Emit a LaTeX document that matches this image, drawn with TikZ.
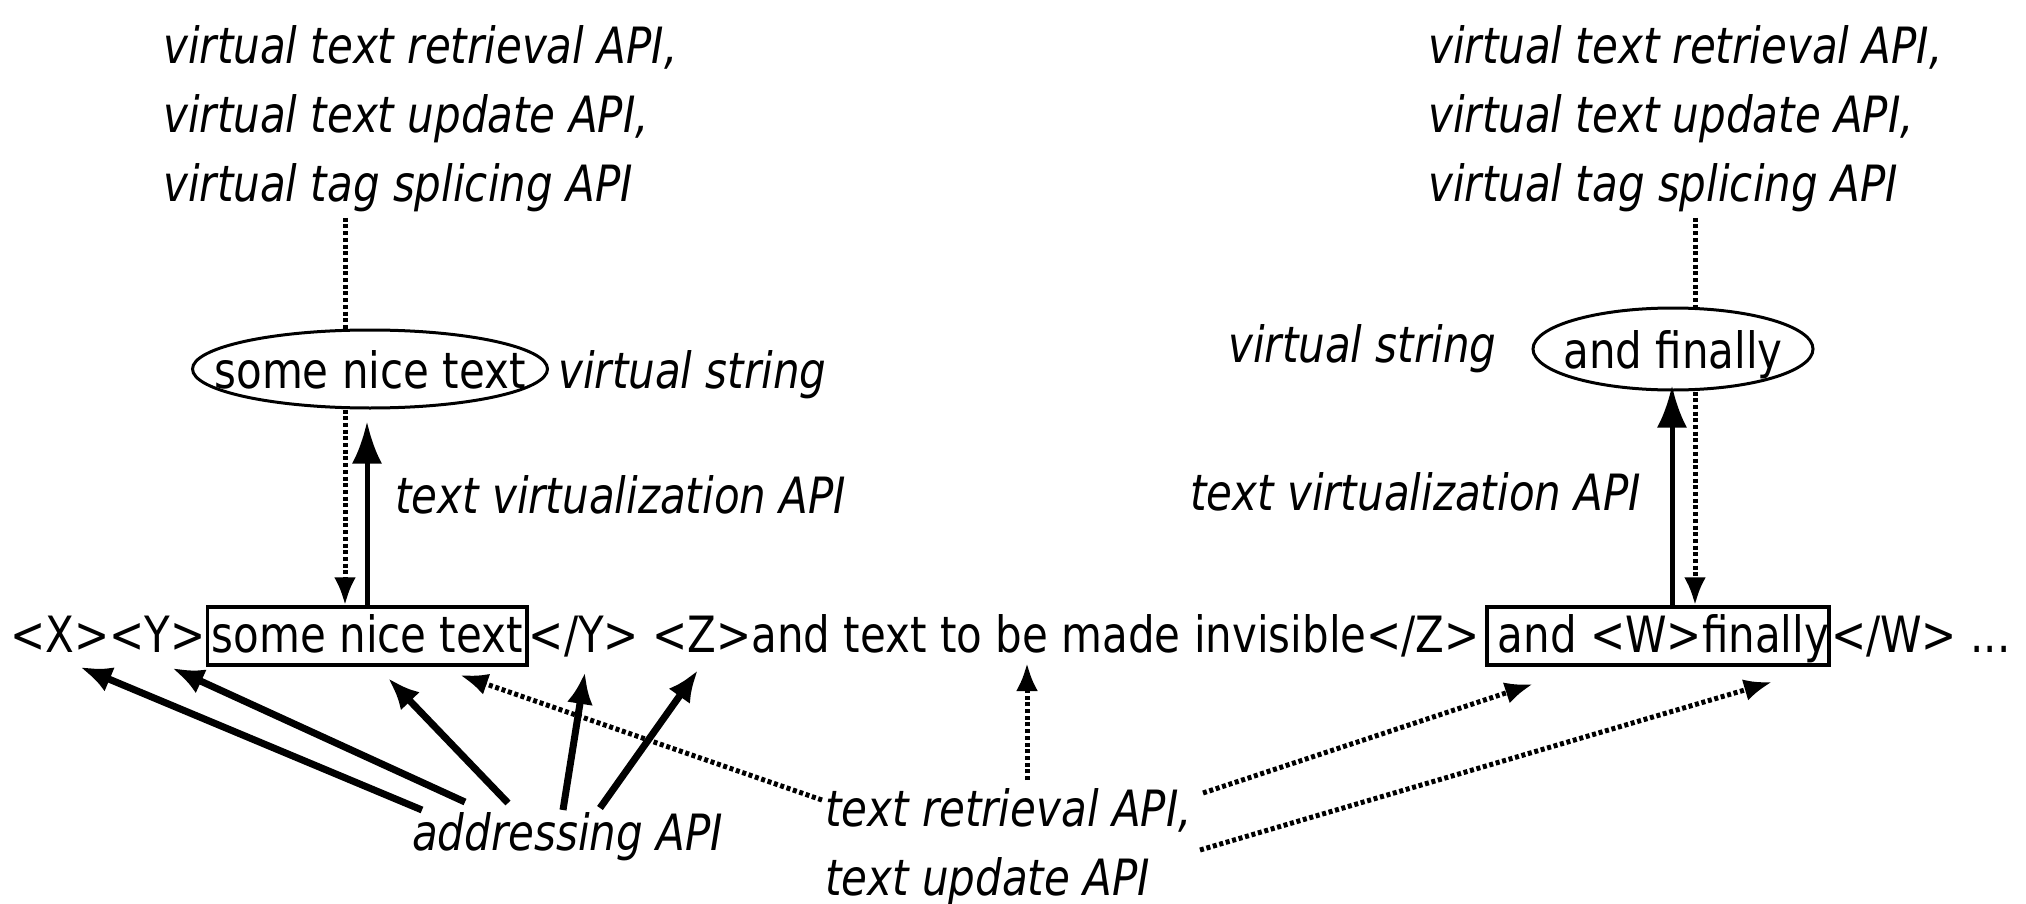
\documentclass[tikz,border=0pt]{standalone}
\usepackage{fontspec}
\setmainfont{DejaVu Sans}[FakeStretch=0.84]
\usetikzlibrary{arrows.meta,shapes.geometric,calc}
\begin{document}
\begin{tikzpicture}[x=1pt,y=-1pt,
  every node/.style={inner sep=0pt, font=\fontsize{50}{69}\selectfont},
  plain/.style={anchor=base west},
  lbl/.style={font=\fontsize{50}{69}\selectfont\itshape},
  tagbox/.style={draw, line width=3.5pt, anchor=base west, inner xsep=5pt,
    inner ysep=0pt, text height=45pt, text depth=13pt},
  vstring/.style={draw, ellipse, line width=3pt, inner xsep=-40pt,
    inner ysep=0pt, text height=38pt, text depth=0pt, anchor=base},
  addr/.style={line width=7pt, -{Latex[length=32pt,width=26pt]}},
  virt/.style={line width=5pt, -{Latex[length=42pt,width=30pt]}},
  dots/.style={line width=5pt, dash pattern=on 4pt off 2.7pt},
  dotarrow/.style={dots, -{Latex[length=28pt,width=22pt]}},
]
\useasboundingbox[fill=white] (0,0) rectangle (2026,904);

% the marked-up document line
\node[plain] (tX) at (10,652) {<X>};
\node[plain] (tY) at (tX.base east) {<Y>};
\node[tagbox, inner xsep=4pt] (b1) at (tY.base east) {some nice text};
\node[plain] (tmid) at (b1.base east) {</Y> <Z>and text to be made invisible</Z>};
\node[tagbox, inner xsep=0pt] (b2) at ([xshift=5pt]tmid.base east)
  {\hspace{11pt}and <W>finally\hspace{6pt}};
\node[plain] (tend) at (b2.base east) {</W> ...};

% virtual strings
\node[vstring, minimum width=355pt, minimum height=78pt] (e1) at (370,388) {some nice text};
\node[vstring, minimum width=280pt, minimum height=82pt] (e2) at (1673,368) {and finally};

% labels
\node[lbl, anchor=base west] (vs1) at (558,388) {virtual string};
\node[lbl, anchor=base west] (vs2) at (1228,362) {virtual string};
\node[lbl, anchor=base west] (tv1) at (395,513) {text virtualization API};
\node[lbl, anchor=base west] (tv2) at (1190,510) {text virtualization API};
\node[lbl, anchor=north west, align=left] (api1) at (163,25)
  {virtual text retrieval API,\\virtual text update API,\\virtual tag splicing API};
\node[lbl, anchor=north west, align=left] (api2) at (1428,25)
  {virtual text retrieval API,\\virtual text update API,\\virtual tag splicing API};
\node[lbl, anchor=base west] (addr) at (412,850) {addressing API};
\node[lbl, anchor=north west, align=left] (ret) at (825,788) {text retrieval API,\\text update API};

% vertical connector columns
\coordinate (xL1) at (345,0);
\coordinate (xL2) at (367,0);
\coordinate (xR1) at (1672,0);
\coordinate (xR2) at (1695,0);

\draw[dots, shorten <=6pt] (api1.south -| xL1) -- (e1.north -| xL1);
\draw[dotarrow] (e1.south -| xL1) -- (b1.north -| xL1);
\draw[virt, shorten >=12pt] (b1.north -| xL2) -- (e1.south -| xL2);
\draw[dots, shorten <=6pt] (api2.south -| xR2) -- (e2.north -| xR2);
\draw[dotarrow] (e2.south -| xR2) -- (b2.north -| xR2);
\draw[virt, shorten >=-6pt] (b2.north -| xR1) -- (e2.south -| xR1);

% addressing API targets
\coordinate (hX) at (80,667);
\coordinate (hY) at (172,668);
\coordinate (hT) at (388,678);
\coordinate (hcY) at (585,672);
\coordinate (hZ) at (698,670);
\coordinate (a1) at (422,810);
\coordinate (a2) at (465,802);
\coordinate (a3) at (508,803);
\coordinate (a4) at (563,810);
\coordinate (a5) at (600,808);
\draw[addr] (a1) -- (hX);
\draw[addr] (a2) -- (hY);
\draw[addr] (a3) -- (hT);
\draw[addr] (a4) -- (hcY);
\draw[addr] (a5) -- (hZ);

% text retrieval / update targets
\coordinate (r1) at (822,800);
\coordinate (r2) at (1027,780);
\coordinate (r3) at (1203,793);
\coordinate (r4) at (1200,850);
\coordinate (hTxt) at (460,675);
\coordinate (hBe) at (1027,663);
\coordinate (hAnd) at (1533,684);
\coordinate (hFin) at (1772,682);
\draw[dotarrow] (r1) -- (hTxt);
\draw[dotarrow] (r2) -- (hBe);
\draw[dotarrow] (r3) -- (hAnd);
\draw[dotarrow] (r4) -- (hFin);
\end{tikzpicture}
\end{document}
